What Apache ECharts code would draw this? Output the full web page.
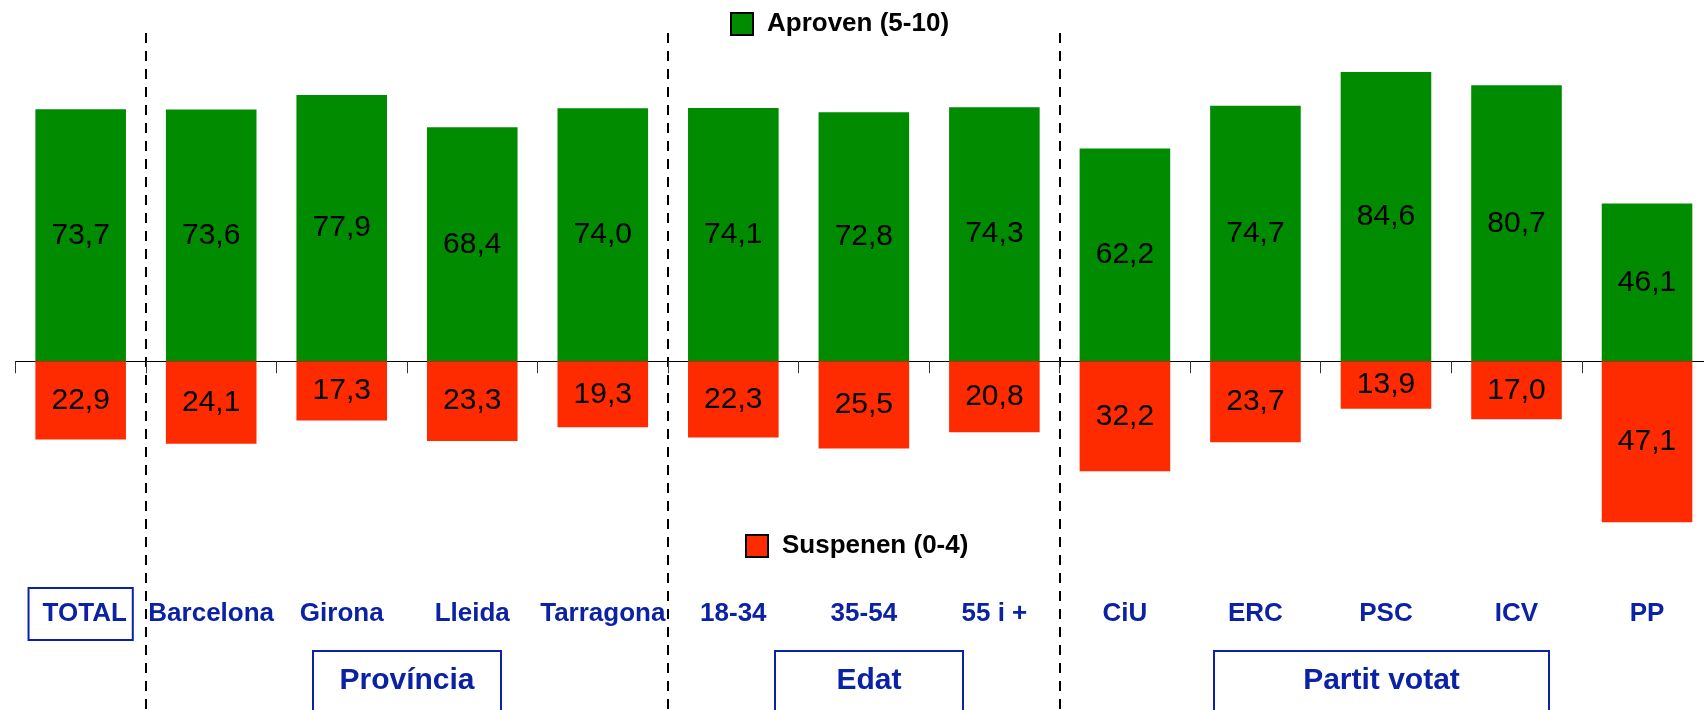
<!DOCTYPE html>
<html>
<head>
<meta charset="utf-8">
<title>Aproven / Suspenen</title>
<script src="https://cdn.jsdelivr.net/npm/echarts@6/dist/echarts.min.js"></script>
<style>
  html, body { margin: 0; padding: 0; background: #fff; }
  #chart { width: 1704px; height: 710px; }
</style>
</head>
<body>
<div id="chart"></div>
<script>
// dades
const categories = ['TOTAL', 'Barcelona', 'Girona', 'Lleida', 'Tarragona', '18-34', '35-54', '55 i +', 'CiU', 'ERC', 'PSC', 'ICV', 'PP']
const aproven = [73.7, 73.6, 77.9, 68.4, 74.0, 74.1, 72.8, 74.3, 62.2, 74.7, 84.6, 80.7, 46.1]
const suspenen = [22.9, 24.1, 17.3, 23.3, 19.3, 22.3, 25.5, 20.8, 32.2, 23.7, 13.9, 17.0, 47.1]
const groupStarts = [1, 5, 8] // first category of each block (Província, Edat, Partit votat)

const FONT = '"Liberation Sans", Arial, sans-serif'
const BLUE = '#0c22a5'

const chart = echarts.init(document.getElementById('chart'))

const fmt = p => Math.abs(p.value).toFixed(1).replace('.', ',')

const groupBox = (x, w, text) => ([
  {
    type: 'rect',
    shape: { x: x, y: 651, width: w, height: 64 },
    style: { fill: 'none', stroke: BLUE, lineWidth: 2 }
  },
  {
    type: 'text',
    x: x + w / 2,
    y: 681,
    style: {
      text: text,
      font: 'bold 30px ' + FONT,
      fill: BLUE,
      align: 'center',
      verticalAlign: 'middle'
    }
  }
])

const option = {
  animation: false,
  grid: {
    left: 15.4,
    right: -8.3,
    top: 33,
    bottom: 0,
    outerBoundsMode: 'none'
  },
  legend: [
    {
      data: ['Aproven (5-10)'],
      left: 730,
      top: 11,
      padding: 0,
      icon: 'rect',
      itemWidth: 22,
      itemHeight: 22,
      itemStyle: { borderColor: '#000', borderWidth: 2 },
      textStyle: { fontFamily: FONT, fontWeight: 'bold', fontSize: 26, color: '#000', padding: [0, 0, 0, 9] }
    },
    {
      data: ['Suspenen (0-4)'],
      left: 745,
      top: 533,
      padding: 0,
      icon: 'rect',
      itemWidth: 22,
      itemHeight: 22,
      itemStyle: { borderColor: '#000', borderWidth: 2 },
      textStyle: { fontFamily: FONT, fontWeight: 'bold', fontSize: 26, color: '#000', padding: [0, 0, 0, 9] }
    }
  ],
  xAxis: [
    {
      type: 'category',
      data: categories,
      axisLine: { onZero: true, lineStyle: { color: '#000', width: 1 } },
      axisTick: { show: true, interval: 0, length: 12, lineStyle: { color: '#333' } },
      axisLabel: { show: false },
      splitLine: {
        show: true,
        interval: (index) => groupStarts.indexOf(index) >= 0,
        lineStyle: { color: '#000', width: 2, type: [10, 8] }
      }
    },
    {
      // only the category names, sitting under the bars
      type: 'category',
      data: categories,
      position: 'bottom',
      offset: -96,
      axisLine: { show: false },
      axisTick: { show: false },
      splitLine: { show: false },
      axisLabel: {
        interval: 0,
        margin: 0,
        verticalAlign: 'middle',
        formatter: (v, i) => (i === 0 ? '{box|' + v + '}' : '{n|' + v + '}'),
        rich: {
          n: { fontFamily: FONT, fontWeight: 'bold', fontSize: 26, color: BLUE },
          box: {
            fontFamily: FONT,
            fontWeight: 'bold',
            fontSize: 26,
            color: BLUE,
            borderColor: BLUE,
            borderWidth: 2,
            padding: [13, 6, 13, 14]
          }
        }
      }
    }
  ],
  yAxis: {
    type: 'value',
    min: -102,
    max: 96,
    show: false,
    splitLine: { show: false }
  },
  series: [
    {
      name: 'Aproven (5-10)',
      type: 'bar',
      stack: 'total',
      xAxisIndex: 0,
      data: aproven,
      barCategoryGap: '30.6%',
      itemStyle: { color: '#008b00' },
      label: {
        show: true,
        position: 'inside',
        formatter: fmt,
        fontFamily: FONT,
        fontSize: 30,
        color: '#000'
      }
    },
    {
      name: 'Suspenen (0-4)',
      type: 'bar',
      stack: 'total',
      xAxisIndex: 0,
      data: suspenen.map(v => -v),
      barCategoryGap: '30.6%',
      itemStyle: { color: '#ff2b00' },
      label: {
        show: true,
        position: 'inside',
        formatter: fmt,
        fontFamily: FONT,
        fontSize: 30,
        color: '#000'
      }
    }
  ],
  graphic: [
    ...groupBox(313, 188, 'Província'),
    ...groupBox(775, 188, 'Edat'),
    ...groupBox(1214, 335, 'Partit votat')
  ]
}

chart.setOption(option)
</script>
</body>
</html>
